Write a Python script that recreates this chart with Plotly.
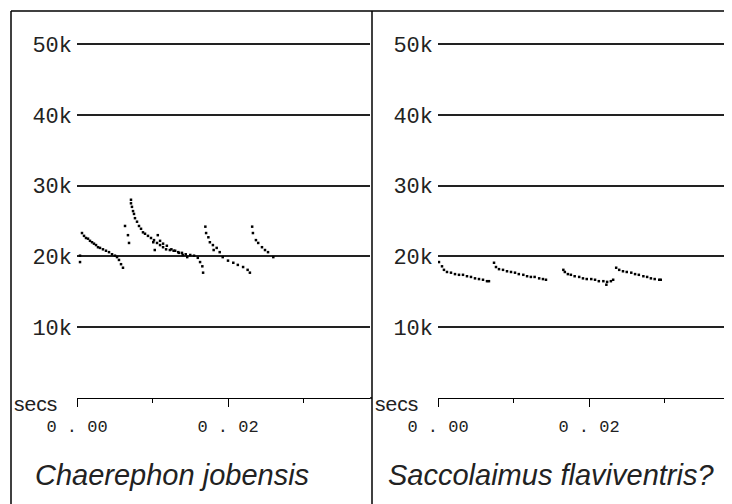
import plotly.graph_objects as go

# Chaerephon jobensis - time (ms) and frequency (kHz) of each zero-crossing dot
cj_ms = [0.40, 0.40, 0.66, 0.93, 1.19, 1.46, 1.72, 1.99, 2.25, 2.52, 2.78, 3.05, 3.44, 3.84, 4.24,
         4.64, 5.03, 5.30, 5.56, 5.83, 6.09,
         6.36, 6.75, 6.89,
         7.15, 7.15, 7.28, 7.42, 7.55, 7.68, 7.95, 8.21, 8.48, 8.74, 9.01, 9.40, 9.80, 10.2, 10.6,
         11.0, 11.4, 11.8, 12.3, 12.8, 13.4, 13.9, 14.4, 15.0, 15.5, 16.0, 16.3, 16.6, 16.7,
         10.1, 10.3, 10.7, 11.0, 11.4, 11.9, 12.5, 13.0, 13.5, 14.0, 14.6,
         17.0, 17.1, 17.4, 17.6, 18.0, 18.5, 18.9, 19.3, 20.0, 20.7, 21.3, 22.0, 22.6, 22.9, 18.1,
         23.2, 23.3, 23.7, 24.0, 24.5, 24.9, 25.3, 26.0]
cj_khz = [20.1, 19.2, 23.3, 22.9, 22.6, 22.5, 22.2, 22.0, 21.8, 21.6, 21.3, 21.2, 21.0, 20.8, 20.6,
          20.3, 20.1, 19.9, 19.5, 18.9, 18.4,
          24.3, 23.0, 21.9,
          28.0, 27.5, 27.0, 26.4, 26.0, 25.4, 24.9, 24.3, 23.9, 23.4, 23.2, 22.9, 22.6, 22.3, 21.9,
          21.6, 21.3, 21.0, 20.9, 20.8, 20.6, 20.5, 20.3, 20.2, 20.1, 19.8, 19.2, 18.6, 17.7,
          22.0, 20.9, 23.0, 22.2, 21.8, 21.5, 21.0, 20.8, 20.5, 20.2, 19.9,
          24.2, 23.3, 22.7, 22.0, 21.6, 21.2, 20.6, 19.9, 19.4, 19.1, 18.8, 18.5, 18.1, 17.7, 20.9,
          24.2, 23.3, 22.3, 21.9, 21.3, 20.9, 20.6, 19.9]

# Saccolaimus flaviventris?
sf_ms = [0.13, 0.53, 0.79, 1.19, 1.72, 2.25, 2.78, 3.31, 3.84, 4.37, 4.90, 5.43, 5.96, 6.49, 6.75,
         7.42, 7.68, 8.08, 8.61, 9.14, 9.67, 10.2, 10.7, 11.3, 11.8, 12.3, 12.8, 13.4, 13.9, 14.3,
         16.6, 16.8, 17.2, 17.6, 18.1, 18.7, 19.2, 19.7, 20.3, 20.8, 21.3, 21.9, 22.4, 22.9, 23.2, 22.3,
         23.6, 24.0, 24.5, 25.0, 25.6, 26.1, 26.6, 27.2, 27.7, 28.2, 28.7, 29.3, 29.5]
sf_khz = [19.2, 18.6, 18.1, 17.8, 17.7, 17.5, 17.4, 17.4, 17.2, 17.1, 16.9, 16.8, 16.7, 16.5, 16.5,
          19.1, 18.5, 18.2, 18.1, 17.9, 17.8, 17.7, 17.5, 17.4, 17.2, 17.1, 17.1, 16.9, 16.8, 16.7,
          18.1, 17.8, 17.5, 17.4, 17.2, 17.1, 16.9, 16.8, 16.8, 16.7, 16.5, 16.5, 16.4, 16.5, 16.7, 16.0,
          18.4, 18.1, 17.9, 17.8, 17.7, 17.5, 17.4, 17.2, 17.1, 16.9, 16.8, 16.7, 16.7]

freq_ticks = [10, 20, 30, 40, 50]
freq_labels = ["10k", "20k", "30k", "40k", "50k"]
time_ticks = [0, 20]
time_labels = ["0 . 00", "0 . 02"]
species = ["Chaerephon jobensis", "Saccolaimus flaviventris?"]

# page body adds an 8px margin, so the figure is shifted and made smaller by that much
OFF = 8
W, H = 732 - OFF, 504 - OFF


def px(x):
    return (x - OFF) / W


def py(y):
    return (H - (y - OFF)) / H


fig = go.Figure()
fig.add_trace(go.Scatter(x=cj_ms, y=cj_khz, mode="markers", xaxis="x", yaxis="y",
                         marker=dict(symbol="square", size=2.5, color="black", line=dict(width=0))))
fig.add_trace(go.Scatter(x=sf_ms, y=sf_khz, mode="markers", xaxis="x2", yaxis="y2",
                         marker=dict(symbol="square", size=2.5, color="black", line=dict(width=0))))

yr = [0, (398 - 11) / 7.08]

xax = dict(tickvals=time_ticks, ticktext=time_labels, ticks="outside", ticklen=8, tickwidth=1.3,
           tickcolor="black", showline=True, linecolor="black", linewidth=1.3, showgrid=False,
           zeroline=False, ticklabelstandoff=4, automargin=False,
           tickfont=dict(family="Liberation Mono", size=17, color="#222"),
           minor=dict(tickvals=[10, 30], ticks="outside", ticklen=4, tickwidth=1.3, tickcolor="black"),
           fixedrange=True)
yax = dict(range=yr, domain=[py(398), py(11)], tickvals=freq_ticks, ticktext=freq_labels, ticks="",
           showgrid=True, gridcolor="#222", gridwidth=1.6, zeroline=False, showline=False,
           ticklabelstandoff=4, automargin=False,
           tickfont=dict(family="Liberation Mono", size=22, color="#222"))

fig.update_layout(
    width=W, height=H, margin=dict(l=0, r=0, t=0, b=0),
    paper_bgcolor="white", plot_bgcolor="white", showlegend=False,
    xaxis=dict(xax, domain=[px(77), px(370)], range=[0, 293 / 7.55], anchor="y"),
    yaxis=dict(yax, anchor="x"),
    xaxis2=dict(xax, domain=[px(438), 1.0], range=[0, 294 / 7.55], anchor="y2"),
    yaxis2=dict(yax, anchor="x2"),
)

# panel frame
line = dict(color="black", width=1.5)
fig.add_shape(type="line", xref="paper", yref="paper", x0=px(11), x1=1, y0=py(11), y1=py(11), line=line)
fig.add_shape(type="line", xref="paper", yref="paper", x0=px(11), x1=px(11), y0=0, y1=py(11), line=line)
fig.add_shape(type="line", xref="paper", yref="paper", x0=px(372), x1=px(372), y0=0, y1=py(11), line=line)
# left panel's time axis runs on to the divider
fig.add_shape(type="line", xref="paper", yref="paper", x0=px(370), x1=px(372), y0=py(398), y1=py(398),
              line=dict(color="black", width=1.3))

# "secs" labels and species names
for x0 in [12, 373]:
    fig.add_annotation(x=px(x0), y=py(403), xref="paper", yref="paper", text="secs",
                       showarrow=False, xanchor="left", yanchor="middle",
                       font=dict(family="Liberation Sans", size=21, color="#222"))
for x0, name in zip([33, 386], species):
    fig.add_annotation(x=px(x0), y=py(475), xref="paper", yref="paper", text="<i>" + name + "</i>",
                       showarrow=False, xanchor="left", yanchor="middle",
                       font=dict(family="Liberation Sans", size=29, color="#222"))

fig.write_html("out.html")
